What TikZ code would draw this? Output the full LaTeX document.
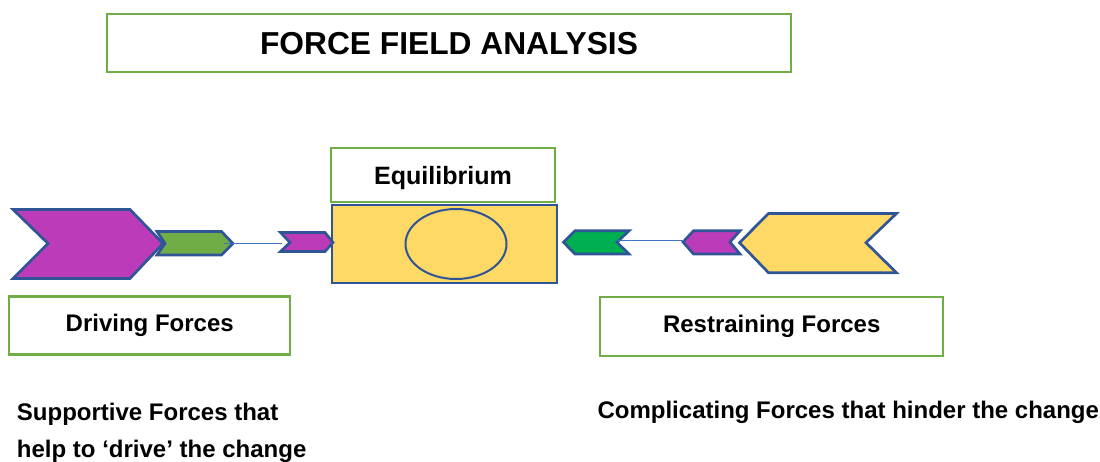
\documentclass[tikz,border=0pt]{standalone}
\usepackage{fontspec}
\setmainfont{Liberation Sans}
\usetikzlibrary{shapes.geometric}
\definecolor{frameg}{HTML}{70AD47}
\definecolor{edgeb}{HTML}{2F5597}
\definecolor{purp}{HTML}{BB3BB9}
\definecolor{leafg}{HTML}{70AD47}
\definecolor{brightg}{HTML}{00B050}
\definecolor{sun}{HTML}{FFD966}
\definecolor{wire}{HTML}{4472C4}
\tikzset{
  labelbox/.style={draw=frameg, line width=1.6pt, fill=white, inner sep=0pt, font=\bfseries},
  chev/.style={draw=edgeb, line width=2pt, line join=miter},
  wireline/.style={draw=wire, line width=0.8pt},
  plain/.style={inner sep=0pt, font=\fontsize{18}{21}\selectfont\bfseries}
}
\begin{document}
\begin{tikzpicture}[x=0.75pt,y=-0.75pt]
\useasboundingbox (0,0) rectangle (1100,461);
% title
\node[labelbox, minimum width=684*0.75pt, minimum height=58*0.75pt, text depth=0pt, font=\fontsize{23.8}{28}\selectfont\bfseries] (title) at (449,43) {FORCE FIELD ANALYSIS};
% equilibrium
\node[labelbox, minimum width=224*0.75pt, minimum height=54*0.75pt, text depth=0pt, font=\fontsize{18.8}{22}\selectfont\bfseries] (eqlabel) at (443,175) {Equilibrium};
\node[draw=edgeb, line width=1.8pt, fill=sun, minimum width=225*0.75pt, minimum height=78*0.75pt, inner sep=0pt] (eqbox) at (444.5,244) {};
\node[draw=edgeb, line width=1.5pt, fill=sun, ellipse, minimum width=101*0.75pt, minimum height=70*0.75pt, inner sep=0pt] (eqell) at (456,244) {};
% left side chevrons
\draw[chev, fill=purp] (13,209.5) -- (130,209.5) -- (163,243.5) -- (130,278.5) -- (13,278.5) -- (48,243.5) -- cycle;
\draw[chev, fill=leafg] (157,231.5) -- (221.5,231.5) -- (233,243.5) -- (221.5,255) -- (157,255) -- (165,243.5) -- cycle;
\draw[chev, fill=purp] (280.5,232.5) -- (325,232.5) -- (333,242.5) -- (325,251.5) -- (280.5,251.5) -- (290,242.5) -- cycle;
\coordinate (ltail) at (224,243.3);
\coordinate (lhead) at (282,243.3);
\draw[wireline] (ltail) -- (lhead);
% right side chevrons
\draw[chev, fill=brightg] (563.5,242.3) -- (575,230.8) -- (629,230.8) -- (617,242.3) -- (629,254) -- (575,254) -- cycle;
\draw[chev, fill=purp] (683,242) -- (693.5,230.8) -- (740,230.8) -- (730,242) -- (740,254) -- (693.5,254) -- cycle;
\draw[chev, fill=sun] (739.5,242.7) -- (768.5,213.5) -- (896.5,213.5) -- (866,242.7) -- (896.5,272.7) -- (768.5,272.7) -- cycle;
\coordinate (rtail) at (618,240.5);
\coordinate (rhead) at (684,240.5);
\draw[wireline] (rtail) -- (rhead);
% force labels
\node[labelbox, minimum width=281*0.75pt, minimum height=58*0.75pt, font=\fontsize{18}{21}\selectfont\bfseries] (driving) at (149.7,325.5) {Driving Forces};
\node[labelbox, minimum width=343*0.75pt, minimum height=59*0.75pt, font=\fontsize{18}{21}\selectfont\bfseries] (restraining) at (771.7,326.2) {Restraining Forces};
% descriptions
\node[plain, anchor=base west] (sup1) at (16.7,420) {Supportive Forces that};
\node[plain, anchor=base west] (sup2) at (16.7,457.5) {help to ‘drive’ the change};
\node[plain, anchor=base west] (comp) at (597.3,418.3) {Complicating Forces that hinder the change};
\end{tikzpicture}
\end{document}
